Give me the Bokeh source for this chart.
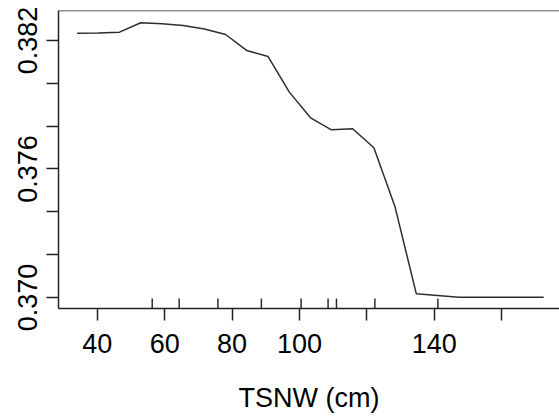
from bokeh.plotting import figure
from bokeh.models import Range1d, FixedTicker, Span
from bokeh.embed import file_html
from bokeh.resources import INLINE

# Partial dependence values
tsnw = [34.0, 40.3, 46.6, 52.9, 59.2, 65.5, 71.8, 78.1, 84.4, 90.7, 97.0, 103.3,
        109.5, 115.8, 122.1, 128.4, 134.7, 141.0, 147.3, 153.6, 159.9, 166.2, 172.5]
response = [0.38234, 0.38235, 0.38239, 0.38283, 0.38278, 0.38270, 0.38254, 0.38228,
            0.38153, 0.38125, 0.37959, 0.37839, 0.37783, 0.37788, 0.37699, 0.37422,
            0.37017, 0.37009, 0.37001, 0.37001, 0.37001, 0.37001, 0.37001]
# rug (deciles of TSNW)
rug = [56.3, 64.3, 75.8, 88.7, 100.5, 108.5, 111.0, 122.4, 141.1]

x_ticks = [40, 60, 80, 100, 120, 140, 160]
x_labels = {40: "40", 60: "60", 80: "80", 100: "100", 120: "", 140: "140", 160: ""}
y_ticks = [0.370, 0.372, 0.374, 0.376, 0.378, 0.380, 0.382]
y_labels = ["0.370", "", "", "0.376", "", "", "0.382"]

y0, y1 = 0.369486, 0.383401
x0, x1 = 28.48, 177.2

FONT = "Liberation Sans"
FS = "27px"

p = figure(width=559, height=416, x_range=Range1d(x0, x1), y_range=Range1d(y0, y1),
           output_backend="svg", toolbar_location=None,
           min_border_left=58, min_border_right=0, min_border_top=10, min_border_bottom=108)
p.outline_line_color = None
p.grid.visible = False
p.background_fill_color = "white"
p.border_fill_color = "white"

p.line(tsnw, response, line_color="#2e2e2e", line_width=1.5)

rug_len = (y1 - y0) * 10 / 298
p.segment(x0=rug, y0=[y0] * len(rug), x1=rug, y1=[y0 + rug_len] * len(rug),
          line_color="#2e2e2e", line_width=1.5)

p.add_layout(Span(location=y1, dimension="width", line_color="#222222", line_width=1.5))

xa = p.xaxis[0]
xa.ticker = FixedTicker(ticks=x_ticks)
xa.major_label_overrides = {t: x_labels[t] for t in x_ticks}
xa.axis_label = "TSNW (cm)"

ya = p.yaxis[0]
ya.ticker = FixedTicker(ticks=y_ticks)
ya.major_label_overrides = {t: l for t, l in zip(y_ticks, y_labels)}
ya.major_label_orientation = "vertical"

for ax in (xa, ya):
    ax.axis_line_color = "#222222"
    ax.axis_line_width = 1.5
    ax.major_tick_line_color = "#222222"
    ax.major_tick_line_width = 1.5
    ax.major_tick_out = 12
    ax.major_tick_in = 0
    ax.minor_tick_line_color = None
    ax.major_label_text_font = FONT
    ax.major_label_text_font_size = FS
    ax.major_label_text_color = "black"
    ax.axis_label_text_font = FONT
    ax.axis_label_text_font_size = FS
    ax.axis_label_text_font_style = "normal"
    ax.axis_label_text_color = "black"

xa.major_label_standoff = 13
xa.axis_label_standoff = 27
ya.major_label_standoff = 9

open("out.html", "w").write(file_html(p, INLINE))
